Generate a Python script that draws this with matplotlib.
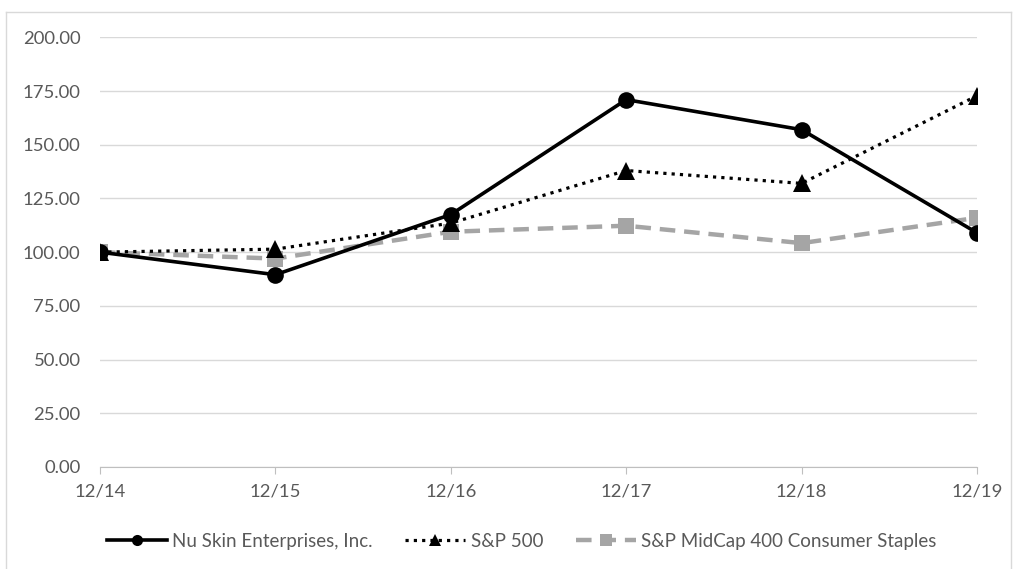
import matplotlib.pyplot as plt
from matplotlib.lines import Line2D

plt.rcParams['font.family'] = ['Lato', 'DejaVu Sans']

years = ["12/14", "12/15", "12/16", "12/17", "12/18", "12/19"]
nu_skin = [100.0, 89.5, 117.5, 171.0, 157.0, 109.0]
sp500 = [100.0, 101.4, 113.5, 138.0, 132.0, 172.8]
midcap_staples = [100.0, 97.0, 109.5, 112.3, 104.2, 116.0]
y_ticks = [0, 25, 50, 75, 100, 125, 150, 175, 200]

fig = plt.figure(figsize=(10.13, 5.69), dpi=100)
ax = fig.add_axes([0.0987, 0.1793, 0.8658, 0.7551])

x = list(range(len(years)))
ax.plot(x, midcap_staples, color='#a5a5a5', lw=3.2, linestyle=(0, (3.5, 2)),
        marker='s', markersize=11.5, markeredgewidth=0,
        label='S&P MidCap 400 Consumer Staples', zorder=3)
ax.plot(x, sp500, color='black', lw=2.3, linestyle=(0, (1, 1.6)),
        marker='^', markersize=13, markeredgewidth=0, label='S&P 500', zorder=4)
ax.plot(x, nu_skin, color='black', lw=2.6, marker='o', markersize=12,
        markeredgewidth=0, label='Nu Skin Enterprises, Inc.', zorder=5)

ax.set_xlim(0, len(years) - 1)
ax.set_ylim(0, 200)
ax.set_xticks(x)
ax.set_xticklabels(years)
ax.set_yticks(y_ticks)
ax.set_yticklabels([f"{v:.2f}" for v in y_ticks])
ax.grid(axis='y', color='#d9d9d9', lw=1)
ax.set_axisbelow(True)
for s in ['top', 'right', 'left']:
    ax.spines[s].set_visible(False)
ax.spines['bottom'].set_color('#bfbfbf')
ax.tick_params(axis='y', length=0, pad=14, labelsize=13.3, labelcolor='#595959')
ax.tick_params(axis='x', length=5, color='#bfbfbf', pad=7, labelsize=13.3,
               labelcolor='#595959')

handles = [
    Line2D([], [], color='black', lw=2.6, marker='o', markersize=8,
           markeredgewidth=0),
    Line2D([], [], color='black', lw=2.3, linestyle=(0, (1, 1.6)), marker='^',
           markersize=8, markeredgewidth=0),
    Line2D([], [], color='#a5a5a5', lw=3.2, linestyle=(0, (3.5, 2)),
           marker='s', markersize=8, markeredgewidth=0),
]
labels = ['Nu Skin Enterprises, Inc.', 'S&P 500',
          'S&P MidCap 400 Consumer Staples']
fig.legend(handles, labels, loc='center', bbox_to_anchor=(0.515, 0.049),
           ncol=3, frameon=False, fontsize=13.5, handlelength=3.2,
           handletextpad=0.27, columnspacing=1.75, labelcolor='#595959')

# light frame around chart area
fig.add_artist(Line2D([6 / 1013, 6 / 1013], [0, 1 - 12 / 569],
                      transform=fig.transFigure, color='#d9d9d9', lw=1))
fig.add_artist(Line2D([6 / 1013, 1011 / 1013], [1 - 12 / 569, 1 - 12 / 569],
                      transform=fig.transFigure, color='#d9d9d9', lw=1))
fig.add_artist(Line2D([1011 / 1013, 1011 / 1013], [0, 1 - 12 / 569],
                      transform=fig.transFigure, color='#d9d9d9', lw=1))

fig.savefig("out.png", dpi=100)
